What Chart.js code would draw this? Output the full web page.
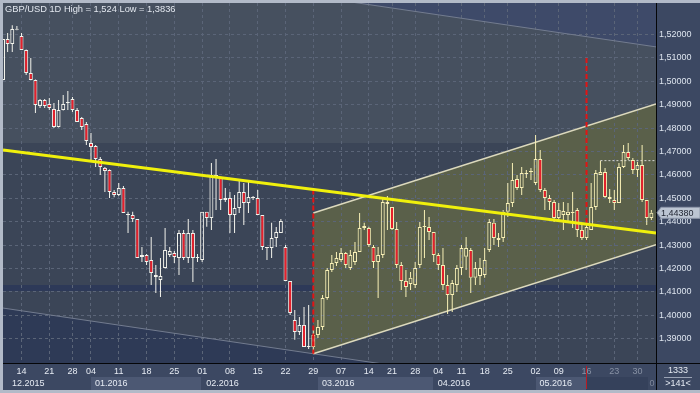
<!DOCTYPE html>
<html><head><meta charset="utf-8">
<script src="https://cdn.jsdelivr.net/npm/chart.js@4.4.1/dist/chart.umd.min.js"></script>
<style>
html,body{margin:0;padding:0;background:#3c4862;overflow:hidden;}
canvas{display:block;}
</style></head><body>
<canvas id="c" width="700" height="393"></canvas>
<script>
// ---------- data (GBP/USD daily, 141 visible bars) ----------
const opens = [
1.5006,1.5181,1.5159,1.5222,1.5194,1.5134,1.5036,1.5006,1.4894,1.4920,
1.4903,1.4882,1.4805,1.4877,1.4907,1.4924,1.4877,1.4843,1.4818,1.4736,
1.4724,1.4668,1.4630,1.4621,1.4527,1.4514,1.4544,1.4433,1.4429,1.4412,
1.4249,1.4258,1.4236,1.4172,1.4151,1.4202,1.4258,1.4266,1.4245,1.4352,
1.4245,1.4352,1.4249,1.4236,1.4442,1.4416,1.4600,1.4587,1.4493,1.4501,
1.4429,1.4459,1.4527,1.4480,1.4506,1.4501,1.4429,1.4288,1.4288,1.4330,
1.4352,1.4292,1.4147,1.3980,1.3929,1.3959,1.3865,1.3916,1.3916,1.3950,
1.4074,1.4194,1.4224,1.4236,1.4266,1.4202,1.4228,1.4271,1.4373,1.4373,
1.4292,1.4228,1.4258,1.4484,1.4463,1.4369,1.4215,1.4147,1.4134,1.4130,
1.4215,1.4382,1.4377,1.4356,1.4258,1.4215,1.4130,1.4087,1.4130,1.4202,
1.4250,1.4279,1.4160,1.4168,1.4172,1.4279,1.4395,1.4330,1.4330,1.4442,
1.4480,1.4582,1.4544,1.4604,1.4612,1.4565,1.4668,1.4535,1.4501,1.4484,
1.4416,1.4429,1.4429,1.4437,1.4450,1.4365,1.4330,1.4365,1.4463,1.4600,
1.4612,1.4506,1.4493,1.4480,1.4634,1.4698,1.4664,1.4621,1.4642,1.4493,
1.4416];
const highs = [
1.5181,1.5206,1.5240,1.5236,1.5206,1.5136,1.5100,1.5008,1.4924,1.4924,
1.4929,1.4907,1.4920,1.4941,1.4959,1.4933,1.4886,1.4847,1.4826,1.4779,
1.4728,1.4677,1.4634,1.4623,1.4535,1.4565,1.4553,1.4442,1.4442,1.4412,
1.4292,1.4262,1.4335,1.4215,1.4245,1.4373,1.4292,1.4275,1.4365,1.4365,
1.4412,1.4365,1.4262,1.4442,1.4442,1.4651,1.4668,1.4587,1.4544,1.4527,
1.4514,1.4578,1.4565,1.4570,1.4510,1.4535,1.4429,1.4292,1.4395,1.4377,
1.4412,1.4300,1.4147,1.4023,1.3993,1.4036,1.4044,1.3937,1.3980,1.4087,
1.4202,1.4258,1.4270,1.4288,1.4271,1.4279,1.4313,1.4437,1.4395,1.4378,
1.4300,1.4292,1.4506,1.4510,1.4463,1.4399,1.4228,1.4194,1.4185,1.4228,
1.4399,1.4450,1.4420,1.4356,1.4266,1.4288,1.4172,1.4151,1.4215,1.4300,
1.4335,1.4288,1.4228,1.4245,1.4288,1.4412,1.4412,1.4352,1.4450,1.4565,
1.4651,1.4600,1.4634,1.4621,1.4630,1.4771,1.4706,1.4544,1.4514,1.4493,
1.4480,1.4484,1.4480,1.4527,1.4459,1.4386,1.4386,1.4565,1.4621,1.4661,
1.4630,1.4540,1.4535,1.4651,1.4728,1.4736,1.4672,1.4655,1.4728,1.4493,
1.4450];
const lows = [
1.5004,1.5125,1.5125,1.5218,1.5134,1.5027,1.5004,1.4865,1.4886,1.4886,
1.4877,1.4800,1.4803,1.4875,1.4877,1.4869,1.4826,1.4792,1.4728,1.4664,
1.4634,1.4600,1.4527,1.4501,1.4505,1.4510,1.4437,1.4352,1.4399,1.4245,
1.4228,1.4215,1.4130,1.4095,1.4078,1.4200,1.4249,1.4224,1.4172,1.4236,
1.4224,1.4142,1.4228,1.4228,1.4378,1.4365,1.4450,1.4450,1.4484,1.4352,
1.4352,1.4437,1.4386,1.4437,1.4493,1.4429,1.4279,1.4236,1.4245,1.4292,
1.4352,1.4147,1.4001,1.3895,1.3916,1.3865,1.3856,1.3836,1.3903,1.3937,
1.4066,1.4185,1.4211,1.4228,1.4202,1.4194,1.4215,1.4271,1.4365,1.4292,
1.4202,1.4074,1.4245,1.4365,1.4365,1.4202,1.4108,1.4078,1.4108,1.4117,
1.4202,1.4245,1.4322,1.4228,1.4194,1.4108,1.4006,1.4014,1.4100,1.4172,
1.4194,1.4095,1.4130,1.4130,1.4160,1.4270,1.4300,1.4292,1.4313,1.4420,
1.4463,1.4535,1.4514,1.4587,1.4578,1.4557,1.4527,1.4450,1.4450,1.4399,
1.4399,1.4365,1.4399,1.4373,1.4335,1.4322,1.4322,1.4365,1.4450,1.4600,
1.4501,1.4480,1.4450,1.4480,1.4630,1.4664,1.4604,1.4591,1.4484,1.4386,
1.4407];
const closes = [
1.5181,1.5159,1.5224,1.5220,1.5134,1.5036,1.5006,1.4899,1.4920,1.4894,
1.4886,1.4805,1.4877,1.4903,1.4912,1.4877,1.4826,1.4805,1.4745,1.4719,
1.4668,1.4634,1.4617,1.4527,1.4514,1.4544,1.4437,1.4429,1.4412,1.4245,
1.4258,1.4228,1.4181,1.4164,1.4168,1.4279,1.4275,1.4249,1.4352,1.4245,
1.4352,1.4245,1.4245,1.4442,1.4416,1.4600,1.4587,1.4493,1.4501,1.4429,
1.4459,1.4527,1.4480,1.4506,1.4501,1.4429,1.4292,1.4292,1.4330,1.4356,
1.4403,1.4147,1.4010,1.3929,1.3959,1.3865,1.3869,1.3865,1.3950,1.4074,
1.4194,1.4224,1.4245,1.4266,1.4215,1.4258,1.4271,1.4373,1.4382,1.4300,
1.4228,1.4258,1.4484,1.4476,1.4369,1.4215,1.4147,1.4121,1.4160,1.4202,
1.4377,1.4377,1.4356,1.4258,1.4215,1.4130,1.4087,1.4138,1.4202,1.4288,
1.4288,1.4160,1.4202,1.4202,1.4236,1.4399,1.4330,1.4322,1.4442,1.4480,
1.4578,1.4544,1.4608,1.4608,1.4615,1.4668,1.4535,1.4501,1.4484,1.4416,
1.4450,1.4446,1.4442,1.4442,1.4365,1.4330,1.4377,1.4463,1.4608,1.4612,
1.4506,1.4497,1.4480,1.4634,1.4698,1.4672,1.4621,1.4642,1.4493,1.4416,
1.4438];

// axis labels
const weekTicks  = [4,10,15,19,25,31,37,43,49,55,61,67,73,79,84,89,94,99,104,109,115,120,126,132,137];
const weekLabels = ['14','21','28','04','11','18','25','01','08','15','22','29','07','14','21','28','04','11','18','25','02','09','16','23','30'];
const monthLabels = ['12.2015','01.2016','02.2016','03.2016','04.2016','05.2016'];
const monthStarts = [0,19,43,68,93,115];
const priceTicks = [1.39,1.40,1.41,1.42,1.43,1.44,1.45,1.46,1.47,1.48,1.49,1.50,1.51,1.52];

// drawn objects (in bar index / price coordinates)
const trendLine   = [1.4706, 1.4352];          // yellow line at bar 0 and bar 141
const wideUpper   = [1.5558, 1.5147];          // wide descending channel
const wideLower   = [1.4031, 1.3620];
const chanStart   = 67;                         // rising channel starts here
const chanUpper   = [1.4437, 1.4903];           // at chanStart and bar 141
const chanLower   = [1.3836, 1.4302];
const zoneBand    = [1.4104, 1.4130];           // dark horizontal zone
const upperShadeLevel = 1.4736;                 // background tone changes above this level
const marker1 = {bar: 67,  from: 1.4538, to: 1.3836};
const marker2 = {bar: 126, from: 1.5100, to: 1.4390};
const dottedFrom = 129;                         // dotted level drawn from this bar's high
const lastPrice = 1.44380;

const X_MIN = 0, X_MAX = 141;
const Y_MIN = 1.379616, Y_MAX = 1.533462;
const FONT = "'Liberation Sans', Arial, sans-serif";

// ---------- datasets ----------
const N = opens.length;
const idx = opens.map((_, i) => i);
const bodyData = idx.map(i => ({x: i, y: [Math.min(opens[i], closes[i]), Math.max(opens[i], closes[i])]}));
const upWick  = idx.map(i => ({x: i, y: [Math.max(opens[i], closes[i]), highs[i]]}));
const loWick  = idx.map(i => ({x: i, y: [lows[i], Math.min(opens[i], closes[i])]}));
const edge = i => i >= chanStart ? '#f8f0b6' : '#f3f3ec';
const seg = (x0, y0, x1, y1) => [{x: x0, y: y0}, {x: x1, y: y1}];

function midShade(context) {
  const chart = context.chart;
  const a = chart.chartArea;
  if (!a) return '#3b4557';
  const g = chart.ctx.createLinearGradient(0, a.top, 0, a.bottom);
  const p = Math.min(1, Math.max(0, (chart.scales.y.getPixelForValue(upperShadeLevel) - a.top) / (a.bottom - a.top)));
  g.addColorStop(0, '#46505f'); g.addColorStop(p, '#46505f');
  g.addColorStop(p, '#3b4557'); g.addColorStop(1, '#3b4557');
  return g;
}

const lineBase = {type: 'line', pointRadius: 0, tension: 0, fill: false, borderCapStyle: 'butt'};
const datasets = [
  {type: 'bar', data: bodyData, order: 0, grouped: false, categoryPercentage: 1, barPercentage: 1, maxBarThickness: 4,
   minBarLength: 1, borderWidth: 1, borderSkipped: false, inflateAmount: 0,
   backgroundColor: c => closes[c.dataIndex] >= opens[c.dataIndex] ? 'rgba(0,0,0,0)' : '#e61f2b',
   borderColor: c => edge(c.dataIndex)},
  {type: 'bar', data: upWick, order: 1, grouped: false, categoryPercentage: 1, barPercentage: 1, maxBarThickness: 1,
   borderWidth: 0, inflateAmount: 0, backgroundColor: c => edge(c.dataIndex)},
  {type: 'bar', data: loWick, order: 1, grouped: false, categoryPercentage: 1, barPercentage: 1, maxBarThickness: 1,
   borderWidth: 0, inflateAmount: 0, backgroundColor: c => edge(c.dataIndex)},
  {...lineBase, data: seg(X_MIN, trendLine[0], X_MAX, trendLine[1]), order: -2, borderColor: '#f0f00c', borderWidth: 3},
  {...lineBase, data: seg(marker1.bar, marker1.from, marker1.bar, marker1.to), order: -1, borderColor: '#e21414', borderWidth: 2, borderDash: [5, 3]},
  {...lineBase, data: seg(marker2.bar, marker2.from, marker2.bar, marker2.to), order: -1, borderColor: '#e21414', borderWidth: 2, borderDash: [5, 3]},
  {...lineBase, data: seg(dottedFrom, highs[dottedFrom], X_MAX, highs[dottedFrom]), order: 2, borderColor: '#d4d4d0', borderWidth: 1, borderDash: [2, 2]},
  {...lineBase, data: seg(chanStart, chanUpper[0], X_MAX, chanUpper[1]), order: 14, borderColor: '#dcd9bd', borderWidth: 1.5,
   fill: {target: 8}, backgroundColor: '#5a604a'},
  {...lineBase, data: seg(chanStart, chanLower[0], X_MAX, chanLower[1]), order: 13, borderColor: '#dcd9bd', borderWidth: 1.5},
  {...lineBase, data: seg(X_MIN, zoneBand[1], X_MAX, zoneBand[1]), order: 16, borderWidth: 0, fill: {target: 10}, backgroundColor: '#2d3958'},
  {...lineBase, data: seg(X_MIN, zoneBand[0], X_MAX, zoneBand[0]), order: 15, borderWidth: 0},
  {...lineBase, data: seg(X_MIN, wideUpper[0], X_MAX, wideUpper[1]), order: 18, borderColor: '#737c8f', borderWidth: 1, fill: 'end', backgroundColor: '#3e4a69'},
  {...lineBase, data: seg(X_MIN, wideLower[0], X_MAX, wideLower[1]), order: 18, borderColor: '#737c8f', borderWidth: 1, fill: 'start', backgroundColor: '#2e3a56'},
  {...lineBase, data: seg(X_MIN, wideLower[0], X_MAX, wideLower[1]), order: 20, borderWidth: 0, fill: 'end', backgroundColor: midShade}
];

// ---------- decorations ----------
const deco = {
  id: 'deco',
  afterDraw(chart) {
    const {ctx, chartArea: a, scales: {x, y}} = chart;
    const W = chart.width, H = chart.height;
    ctx.save();
    // month row
    const boxEnd = a.right - 8;
    ctx.textBaseline = 'middle';
    ctx.font = '9px ' + FONT;
    for (let m = 0; m < monthLabels.length; m++) {
      const x0 = Math.round(x.getPixelForValue(monthStarts[m]));
      const x1 = m + 1 < monthLabels.length ? Math.round(x.getPixelForValue(monthStarts[m + 1])) - 1 : boxEnd;
      if (m % 2 === 1) { ctx.fillStyle = '#4c5873'; ctx.fillRect(x0, 377, x1 - x0, 13); }
    }
    const xf = Math.round(x.getPixelForValue(marker2.bar)) - 1;
    ctx.fillStyle = '#35415b'; ctx.fillRect(xf, 377, boxEnd - xf, 13);
    ctx.fillStyle = '#b81c24'; ctx.fillRect(xf, 366, 1, 23);
    ctx.fillStyle = '#e6ebf3'; ctx.textAlign = 'left';
    for (let m = 0; m < monthLabels.length; m++) {
      const tx = Math.max(x.getPixelForValue(monthStarts[m]) + 4, a.left + 9);
      ctx.fillText(monthLabels[m], tx, 383.5);
    }
    ctx.fillStyle = '#7f889b'; ctx.textAlign = 'center';
    ctx.fillText('0', 652, 383.5);
    // axis separators
    ctx.fillStyle = '#050608';
    ctx.fillRect(Math.round(a.right), 0, 1, H);
    ctx.fillRect(0, Math.round(a.bottom), W, 1);
    // bar counter box
    ctx.fillStyle = '#e6ebf3'; ctx.textAlign = 'center';
    ctx.fillText('1333', 678, 370.5);
    ctx.fillText('>141<', 678, 384);
    ctx.fillStyle = '#9aa3b5'; ctx.fillRect(664, 377, 28, 1);
    // last price tag
    const py = y.getPixelForValue(lastPrice);
    ctx.beginPath();
    ctx.moveTo(a.right + 1, py);
    ctx.lineTo(a.right + 5, py - 5.5);
    ctx.lineTo(W, py - 5.5);
    ctx.lineTo(W, py + 5.5);
    ctx.lineTo(a.right + 5, py + 5.5);
    ctx.closePath();
    ctx.fillStyle = '#bcc5d2'; ctx.fill();
    ctx.strokeStyle = '#8e98aa'; ctx.lineWidth = 1; ctx.stroke();
    ctx.fillStyle = '#1e2330'; ctx.textAlign = 'left';
    ctx.fillText(lastPrice.toFixed(5).replace('.', ','), a.right + 5, py + 0.5);
    // outer frame
    ctx.fillStyle = '#b2bac8';
    ctx.fillRect(0, 0, 3, H);
    ctx.fillRect(0, 0, W, 3);
    ctx.fillRect(0, H - 3, W, 3);
    // title
    ctx.fillStyle = '#e2e7ef'; ctx.textAlign = 'left';
    ctx.font = '9.3px ' + FONT;
    ctx.fillText('GBP/USD 1D High = 1,524 Low = 1,3836', 5, 9);
    ctx.restore();
  }
};

new Chart(document.getElementById('c'), {
  type: 'bar',
  data: {datasets},
  options: {
    responsive: false, animation: false, devicePixelRatio: 1,
    layout: {padding: {left: 3, top: 3, right: 0, bottom: 0}},
    plugins: {legend: {display: false}, tooltip: {enabled: false}, filler: {drawTime: 'beforeDraw', propagate: false}},
    scales: {
      x: {
        type: 'linear', min: X_MIN, max: X_MAX, offset: false,
        grid: {offset: false, color: '#5b6578', lineWidth: 1, drawTicks: false},
        border: {display: false, dash: [3, 3]},
        ticks: {autoSkip: false, maxRotation: 0, padding: 3, font: {family: FONT, size: 9},
                color: c => (weekTicks[c.index] >= marker2.bar ? '#8892a5' : '#e6ebf3'),
                callback: (v, i) => weekLabels[i]},
        afterBuildTicks: s => { s.ticks = weekTicks.map(v => ({value: v})); },
        afterFit: s => { s.height = 30; s.paddingLeft = 0; s.paddingRight = 0; }
      },
      y: {
        type: 'linear', position: 'right', min: Y_MIN, max: Y_MAX, beginAtZero: false,
        grid: {color: '#5b6578', lineWidth: 1, drawTicks: false},
        border: {display: false, dash: [3, 3]},
        ticks: {padding: 3, autoSkip: false, font: {family: FONT, size: 9}, color: '#dde4ee',
                callback: v => v.toFixed(5).replace('.', ',')},
        afterBuildTicks: s => { s.ticks = priceTicks.map(v => ({value: v})); },
        afterFit: s => { s.width = 44; s.paddingTop = 0; s.paddingBottom = 0; }
      }
    }
  },
  plugins: [deco]
});
</script>
</body></html>
